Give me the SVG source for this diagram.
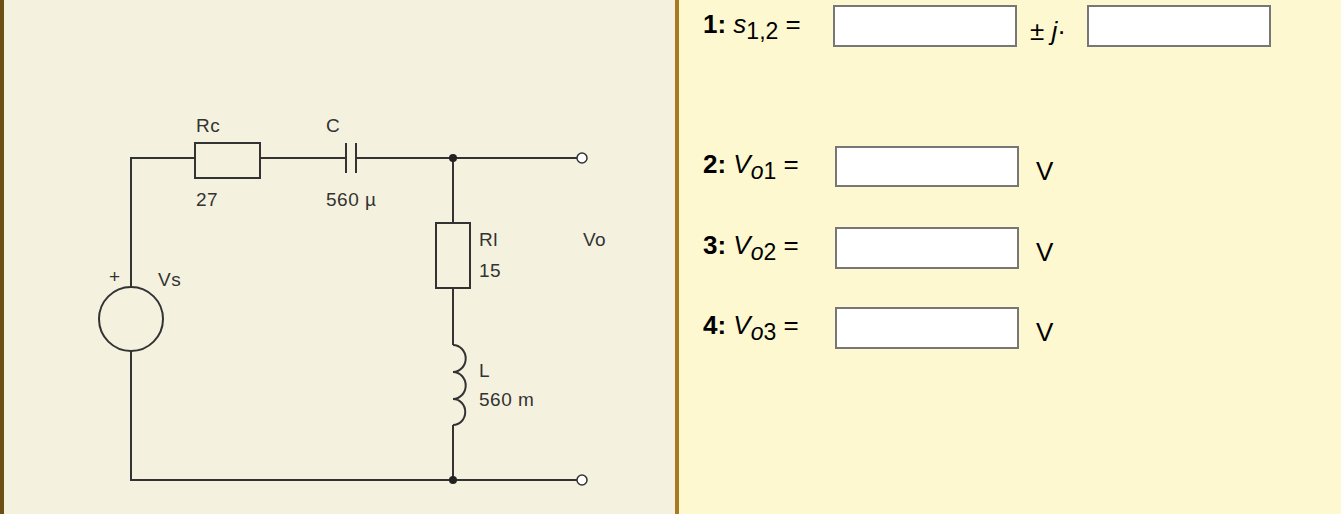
<svg xmlns="http://www.w3.org/2000/svg" width="1341" height="514" viewBox="0 0 1341 514">
<style>
.w{stroke:#333;stroke-width:2;fill:none}
.t{font-family:"Liberation Sans",Arial,sans-serif;font-size:19px;fill:#333;letter-spacing:0.5px}
.q{font-family:"Liberation Sans",Arial,sans-serif;font-size:26px;fill:#000}
.box{fill:#fff;stroke:#777;stroke-width:2}
</style>
<rect x="0" y="0" width="1341" height="514" fill="#fdf8d0"/>
<rect x="0" y="0" width="677" height="514" fill="#f4f2df"/>
<rect x="0" y="0" width="4" height="514" fill="#6b4f14"/>
<rect x="675" y="0" width="4" height="514" fill="#a57c1f"/>
<g id="connectors">
<path class="w" d="M195 158H131V287M131 351V480H577M260 158H346M356 158H577M453 158V223M453 288V345M453 425V480"/>
<circle cx="453" cy="158" r="4" fill="#222"/>
<circle cx="453" cy="480" r="4" fill="#222"/>
</g>
<g id="Rc"><rect class="w" x="195" y="143" width="65" height="35"/><text class="t" x="196" y="132">Rc</text><text class="t" x="196" y="206">27</text></g>
<g id="C"><path class="w" d="M346 143V173M356 143V173" stroke-width="3"/><text class="t" x="326" y="132">C</text><text class="t" x="326" y="206">560 µ</text></g>
<g id="Rl"><rect class="w" x="436" y="223" width="34" height="65"/><text class="t" x="479" y="246">Rl</text><text class="t" x="479" y="277">15</text></g>
<g id="L"><path class="w" d="M453 345a8 8.5 0 0 1 0 27a8 8.5 0 0 1 0 27a8 8.5 0 0 1 0 26"/><text class="t" x="479" y="377">L</text><text class="t" x="479" y="406">560 m</text></g>
<g id="Vs"><circle class="w" cx="131" cy="319" r="32"/><text class="t" x="109" y="283" font-size="15">+</text><text class="t" x="158" y="286">Vs</text></g>
<g id="Vo"><circle cx="582" cy="158" r="5" fill="#fff" stroke="#333" stroke-width="1.5"/><circle cx="582" cy="480" r="5" fill="#fff" stroke="#333" stroke-width="1.5"/><text class="t" x="583" y="246">Vo</text></g>
<g id="q1"><text class="q" x="703" y="33"><tspan font-weight="bold">1:</tspan> <tspan font-style="italic">s</tspan><tspan font-size="23" dy="6">1,2</tspan><tspan dy="-6"> =</tspan></text>
<rect class="box" x="834" y="6" width="182" height="40"/><text class="q" x="1030" y="40" font-size="21">± <tspan font-style="italic">j</tspan>·</text><rect class="box" x="1088" y="6" width="182" height="40"/></g>
<g id="q2"><text class="q" x="703" y="173"><tspan font-weight="bold">2:</tspan> <tspan font-style="italic">V</tspan><tspan font-style="italic" font-size="23" dy="6">o</tspan><tspan font-size="23">1</tspan><tspan dy="-6"> =</tspan></text><rect class="box" x="836" y="147" width="182" height="39"/><text class="q" x="1036" y="180">V</text></g>
<g id="q3"><text class="q" x="703" y="254"><tspan font-weight="bold">3:</tspan> <tspan font-style="italic">V</tspan><tspan font-style="italic" font-size="23" dy="6">o</tspan><tspan font-size="23">2</tspan><tspan dy="-6"> =</tspan></text><rect class="box" x="836" y="228" width="182" height="40"/><text class="q" x="1036" y="261">V</text></g>
<g id="q4"><text class="q" x="703" y="334"><tspan font-weight="bold">4:</tspan> <tspan font-style="italic">V</tspan><tspan font-style="italic" font-size="23" dy="6">o</tspan><tspan font-size="23">3</tspan><tspan dy="-6"> =</tspan></text><rect class="box" x="836" y="308" width="182" height="40"/><text class="q" x="1036" y="341">V</text></g>
</svg>
